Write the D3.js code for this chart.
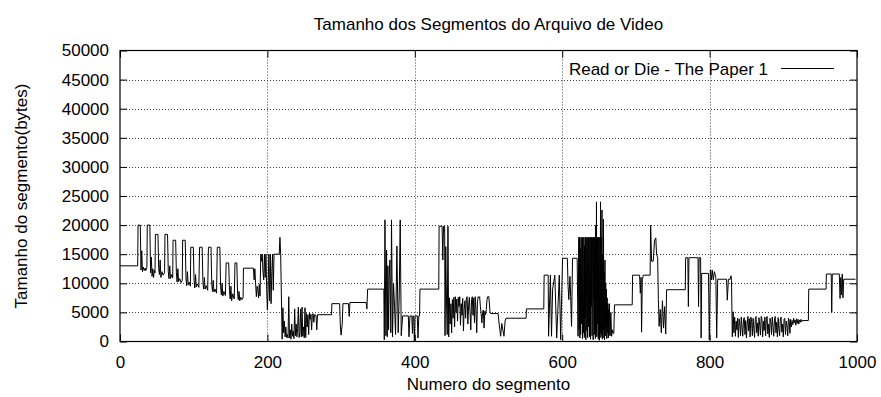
<!DOCTYPE html>
<html>
<head>
<meta charset="utf-8">
<script src="https://cdn.jsdelivr.net/npm/d3@7"></script>
<style>
  body { margin: 0; background: #fff; }
  text { font-family: "Liberation Sans", Arial, Helvetica, sans-serif; fill: #000; }
</style>
</head>
<body>
<svg id="chart" width="881" height="397"></svg>
<script>
// ── Data (segment index, bytes) ───────────────────────────────────────

const xTicks = [0, 200, 400, 600, 800, 1000];
const yTicks = [0, 5000, 10000, 15000, 20000, 25000, 30000, 35000, 40000, 45000, 50000];

const seriesName = 'Read or Die - The Paper 1';

// opening: periodic peaks that decay
const introPeaks = [
  [0,13000],[24,13000],[24.5,20000],[27.5,20000],[28.5,12300],[29.5,15600],[30.5,12000],[31.5,12800],
  [33,12200],[34,12600],[35,12200],[36.5,12700],[37,20000],[40.5,20000],[41.5,11800],[42.5,14500],
  [43.5,11200],[44.5,12500],[45.5,11000],[46.5,12200],[47.5,11800],[48,18400],[51.5,18400],[52.5,12500],
  [53.5,11500],[54.5,14000],[55.5,11000],[57,12000],[58.5,11400],[60.5,11800],[61,18400],[64.5,18400],
  [65.5,12000],[66.5,10800],[67.5,13000],[68.5,10800],[70,11500],[71.5,10900],[72,17400],[75.5,17400],
  [76.5,11800],[77.5,10200],[78.5,12500],[79.5,10300],[81,10800],[83,10100],[84.5,10500],[85,17400],
  [88.5,17400],[89.5,10800],[90.5,9600],[91.5,12000],[92.5,9700],[94,10200],[95.5,9500],[96,16200],
  [99.5,16200],[100.5,10500],[101.5,9200],[102.5,11500],[103.5,9400],[105,9900],[107,9300],[108,16200],
  [111.5,16200],[112.5,10300],[113.5,9000],[114.5,11000],[115.5,9000],[117,9600],[119,8800],[120,16200],
  [123.5,16200],[124.5,9800],[125.5,8600],[126.5,10500],[127.5,8500],[129,9000],[131,8300],[132,16200],
  [135.5,16200],[136.5,9500],[137.5,8000],[138.5,10000],[139.5,7800],[141,8600],[143,7900],[144,13500],
  [147.5,13500],[148.5,8800],[149.5,7300],[150.5,9500],[151.5,7000],[153,8200],[155,7300],[156,13500],
  [158.5,13500],[159.5,8300],[160.5,7200],[161.5,8600],[162.5,7000],[164,7600],[165.5,7200],[167,7500],
  [167.5,12600]
];

const firstBurst = [
  [181,12600],[182,10600],[183,12500],[184,10000],[185,7700],[186,9500],[187,8900],[188,7500],
  [189,9800],[190,7800],[191,15000],[192,13800],[193,15000],[194,12000],[195,10600],[196,15000],
  [197,11000],[198,15000],[199,9000],[200,5400],[201,9000],[202,15000],[203,7000],[204,15000],
  [205,6500],[206,12000],[207,15000],[208,8800],[209,15000],[210,15000],[216,15000],[217,17900],
  [218,15000],[220,400]
];

const lowStretch = [
  [221,5800],[222,1500],[223,3500],[224,800],[225,2500],[226,700],[227,1200],[228,600],[229,7700],
  [230,600],[231,2000],[232,400],[233,3000],[234,900],[235,1800],[236,500],[237,5600],[238,1000],
  [239,3000],[240,800],[241,2200],[242,5900],[243,700],[244,1500],[245,5600],[246,800],[247,5900],
  [248,900],[249,2500],[250,600],[251,5800],[252,700],[253,4800],[254,2500],[255,4600],[256,1200],
  [257,4900],[258,3800],[259,4700],[260,2000],[261,4500],[262,4800],[263,3300],[264,4600],[266,4500],
  [267,2000],[268,4600],[287,4600],[287.5,6500],[298,6500],[299,2500],[300,1100],[301.5,3000],
  [302.5,6500],[310,6500],[311,4300],[312,6700],[334,6700],[335,5600],[336,9000],[358,9000]
];

const secondBurst = [
  [358.6,300],[359.5,20900],[360.8,1000],[361.7,15700],[362.6,800],[363.5,13000],[364.4,2000],
  [365.3,11000],[366.2,14000],[367.5,1500],[368.4,20900],[369.8,800],[371.1,10000],[372.5,6000],
  [373.9,1200],[375.7,16400],[377.5,1500],[378.9,8000],[380.2,20900],[381.6,1000],[383.5,4400],
  [391.2,4400],[392.1,800],[393.5,4400],[396,4400],[396.8,1400],[397.6,4400],[398.5,4400],[399.4,0],
  [400.3,4400],[403.4,4400],[404.3,600],[405.5,4400],[406.5,4400],[407,9000],[432.5,9000],[433,19800],
  [437,19800],[438,14000],[439,19800],[440.5,19800],[441,1000],[442,16300],[443,7000],[444,1200],
  [445,19800],[446,800]
];

const middleNoise = [
  [447,7500],[448,3000],[449,6500],[450,1500],[451,7200],[452,4000],[453,7600],[454,2500],[455,7700],
  [456,5000],[457,7300],[458,3500],[459,7600],[460,6000],[461,7700],[462,2800],[463,6500],[464,4500],
  [465,7400],[466,1800],[467,5500],[468,7000],[469,4000],[470,7500],[471,7700],[472,3000],[473,6200],
  [474,7600],[475,5000],[476,2000],[477,7200],[478,7700],[479,4500],[480,7500],[481,3200],[482,7700],
  [483,5500],[484,1500],[485,6800],[486,7700],[487,7500],[488,7700],[489,6000],[490,4800],[491,3200],
  [492,5000],[493,5400],[494,2300],[495,5200],[496,4600],[497,5500],[498,7200],[499,7700],[500.5,7700],
  [502,5100],[503,4800],[513,4800],[514.5,3000],[516.5,900],[518,3100],[519.5,2000],[521,900],
  [522.5,3500],[523.7,4000],[551,4000],[551.5,5600],[575,5600],[575.5,11400],[581,11400],[581.5,900],
  [584,11400],[585.5,900],[587,9000],[590,11400],[592.5,600],[594,5000],[596,11400],[598,300],
  [599.5,9000],[600.5,14300],[607,14300],[608,9400],[609,7200],[610.5,11200],[611.5,7700],[612.7,2600],
  [614,14300],[620.3,14300],[621.5,900],[622.5,17900]
];

// the solid black block around segment 620-665
const denseBurst = [
  [623,2000],[623.5,17900],[624,600],[624.5,16000],[625,1200],[625.5,17900],[626,3000],[626.5,14000],
  [627,17900],[627.5,500],[628,17900],[628.5,9000],[629,1500],[629.5,17900],[630,700],[630.5,16500],
  [631,4000],[631.5,17900],[632,300],[632.5,17900],[633,11000],[633.5,1800],[634,17900],[634.5,600],
  [635,15000],[635.5,17900],[636,2500],[636.5,17900],[637,800],[637.5,13000],[638,17900],[638.5,400],
  [639,17900],[639.5,6000],[640,17900],[640.5,1000],[641,16000],[641.5,17900],[642,300],[642.5,17900],
  [643,7000],[643.5,17900],[644,1200],[644.5,17900],[645,500],[645.5,20000],[646,1500],[646.5,24000],
  [647,800],[647.5,17900],[648,3000],[648.5,17900],[649,400],[649.5,17900],[650,9000],[650.5,200],
  [651,17900],[651.5,1500],[652,24000],[652.5,700],[653,17900],[653.5,1200],[654,22600],[654.5,400],
  [655,15000],[655.5,600],[656,21000],[656.5,2000],[657,12000],[657.5,300],[658,14000],[658.5,1000],
  [659,10000],[659.5,2500],[660,9000],[660.5,500],[661,7500],[661.5,1500],[662,6500],[662.5,600],
  [663,5500],[663.5,1000],[664,6500],[665,1000],[666,5000],[667,900],[668,2000],[669,1400],[670,1400],
  [671,6300],[695,6300]
];

const lateSteps = [
  [695.5,11400],[705,11400],[706,8300],[707,11000],[707.7,1600],[708.7,10600],[710,11400],[719.3,11400],
  [720,20000],[721.3,13800],[723.5,13800],[725.3,17400],[727,17800],[728,15000],[729.5,14400],
  [730.5,7200],[731.5,2600],[733,5500],[734.5,1500],[736,7000],[737.5,2300],[739,6000],[740.5,1300],
  [741.7,8900],[767,8900],[767.5,14400],[770.5,14400],[771.2,6000],[772,14400],[784.3,14400],
  [785,6000],[785.8,14400],[787.8,14400],[788.5,600],[789.3,11700],[798.5,11700],[799.6,300],
  [801,12300],[802.5,10600],[803.5,12300],[805,10600],[806.5,12000],[808.5,11000],[809.6,600],
  [811,10700],[823,10700],[824,7100],[825.5,10700],[828,10700],[829,11300],[829.7,10500],[830.8,800]
];

const tailNoise = [
  [832,5100],[833,1500],[834,4200],[835,900],[836,3500],[837,2000],[838,4000],[839,700],[840,3900],
  [841,3000],[842,1000],[843,4200],[844,2500],[845,900],[846,3800],[847,4100],[848,1200],[849,3600],
  [850,600],[851,3000],[852,4300],[853,1800],[854,3900],[855,800],[856,4200],[857,3500],[858,1000],
  [859,4000],[860,2200],[861,700],[862,3800],[863,4300],[864,1500],[865,3200],[866,900],[867,4100],
  [868,2800],[869,1100],[870,4300],[871,3900],[872,800],[873,3500],[874,1900],[875,4200],[876,1000],
  [877,3800],[878,4300],[879,1300],[880,3000],[881,700],[882,4000],[883,3400],[884,1200],[885,4200],
  [886,2600],[887,900],[888,3700],[889,4300],[890,1500],[891,3300],[892,800],[893,4100],[894,2300],
  [895,1000],[896,3900],[897,4200],[898,1600],[899,3000],[900,800],[901,3800],[902,4000],[903,1200],
  [904,3500],[905,2800],[906,1000],[907,4000],[908,3700],[909,1400],[910,3800],[911,2500],[912,3600],
  [913,2900],[914,4000],[915,3200],[916,3700],[917,2800],[918,3900],[919,3100],[920,3800],[921,3000],
  [922,3700],[923,3300],[924,3800],[925,3400],[926,3600],[934,3600],[934.5,9000],[958,9000],
  [958.5,11600],[965,11600],[965.7,5000],[966.5,11600],[976,11600],[977,7400],[978,11000],[979,8000],
  [980,11600],[981,7500],[982,10700],[998,10700]
];

const series = [].concat(introPeaks, firstBurst, lowStretch, secondBurst,
                         middleNoise, denseBurst, lateSteps, tailNoise);

// ── Layout ────────────────────────────────────────────────────────────

const W = 881, H = 397;
const M = { left: 120, right: 881 - 857, top: 50.5, bottom: 397 - 341.5 };
const TICK = 7;
const FONT = 17;

const svg = d3.select('#chart');

const x = d3.scaleLinear().domain([0, 1000]).range([M.left, W - M.right]);
const y = d3.scaleLinear().domain([0, 50000]).range([H - M.bottom, M.top]);
const fmt = d3.format('d');

// grid (dotted)
const grid = svg.append('g')
  .attr('stroke', '#444')
  .attr('stroke-width', 1)
  .attr('stroke-dasharray', '1,2');

grid.selectAll('.gx')
  .data(xTicks.filter(d => d > 0 && d < 1000))
  .join('line')
  .attr('x1', d => Math.round(x(d)) + 0.5).attr('x2', d => Math.round(x(d)) + 0.5)
  .attr('y1', y(50000)).attr('y2', y(0));

grid.selectAll('.gy')
  .data(yTicks.filter(d => d > 0 && d < 50000))
  .join('line')
  .attr('y1', d => Math.round(y(d)) + 0.5).attr('y2', d => Math.round(y(d)) + 0.5)
  .attr('x1', x(0)).attr('x2', x(1000));

// axes with inward ticks, mirrored on all sides
function styleAxis(g) {
  g.select('.domain').remove();
  g.selectAll('line').attr('stroke', '#000').attr('stroke-width', 1);
  g.selectAll('text')
    .attr('font-size', FONT)
    .attr('font-family', '"Liberation Sans", Arial, sans-serif')
    .attr('fill', '#000');
}

svg.append('g')
  .attr('transform', `translate(${x(0)},0)`)
  .call(d3.axisLeft(y).tickValues(yTicks).tickFormat(fmt)
    .tickSizeInner(-TICK).tickSizeOuter(0).tickPadding(11))
  .call(styleAxis);

svg.append('g')
  .attr('transform', `translate(${x(1000)},0)`)
  .call(d3.axisRight(y).tickValues(yTicks).tickSizeInner(-TICK).tickSizeOuter(0).tickFormat(''))
  .call(styleAxis);

svg.append('g')
  .attr('transform', `translate(0,${y(0)})`)
  .call(d3.axisBottom(x).tickValues(xTicks).tickFormat(fmt)
    .tickSizeInner(-TICK).tickSizeOuter(0).tickPadding(14))
  .call(styleAxis);

svg.append('g')
  .attr('transform', `translate(0,${y(50000)})`)
  .call(d3.axisTop(x).tickValues(xTicks).tickSizeInner(-TICK).tickSizeOuter(0).tickFormat(''))
  .call(styleAxis);

// data line
const line = d3.line()
  .x(d => x(d[0]))
  .y(d => y(d[1]));

svg.append('path')
  .datum(series)
  .attr('d', line)
  .attr('fill', 'none')
  .attr('stroke', '#000')
  .attr('stroke-width', 1)
  .attr('stroke-linejoin', 'miter');

// border
svg.append('rect')
  .attr('x', x(0)).attr('y', y(50000))
  .attr('width', x(1000) - x(0)).attr('height', y(0) - y(50000))
  .attr('fill', 'none')
  .attr('stroke', '#000')
  .attr('stroke-width', 1.2);

// legend
svg.append('text')
  .attr('x', 768).attr('y', 74.5)
  .attr('text-anchor', 'end')
  .attr('font-size', FONT)
  .text(seriesName);

svg.append('line')
  .attr('x1', 781).attr('x2', 834)
  .attr('y1', 68.5).attr('y2', 68.5)
  .attr('stroke', '#000');

// titles
svg.append('text')
  .attr('x', (x(0) + x(1000)) / 2).attr('y', 30)
  .attr('text-anchor', 'middle')
  .attr('font-size', FONT)
  .text('Tamanho dos Segmentos do Arquivo de Video');

svg.append('text')
  .attr('x', (x(0) + x(1000)) / 2).attr('y', 390)
  .attr('text-anchor', 'middle')
  .attr('font-size', FONT)
  .text('Numero do segmento');

svg.append('text')
  .attr('transform', `translate(27,${(y(0) + y(50000)) / 2}) rotate(-90)`)
  .attr('text-anchor', 'middle')
  .attr('font-size', FONT)
  .text('Tamanho do segmento(bytes)');
</script>
</body>
</html>
